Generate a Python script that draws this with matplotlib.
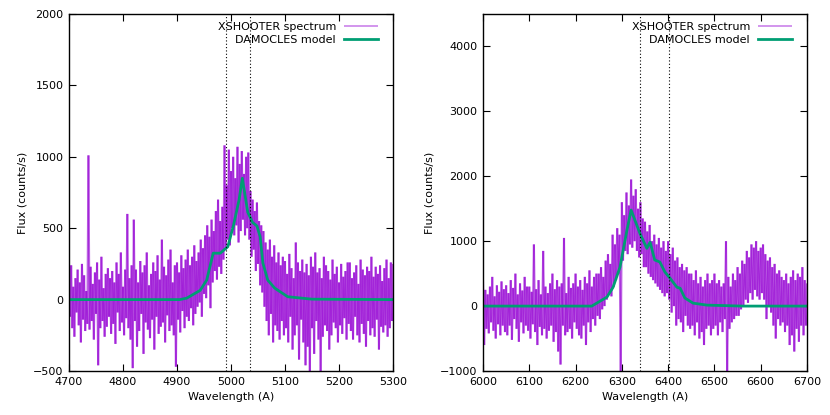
import matplotlib
matplotlib.use("Agg")
import matplotlib.pyplot as plt
from matplotlib.collections import LineCollection
import numpy as np

# --------------------------------------------------------------
# Data
# --------------------------------------------------------------

# left panel: spectrum sampled every 2 A from 4700 to 5300
wave_left_start, wave_left_step = 4700, 2
flux_left = [
    180, -120, 240, -200, 90, -260, 150, -90, 210, -180, 120, -300, 250, -140, 170, -220, 60, -170, 1010, -210,
    230, -150, 110, -280, 190, -100, 260, -460, 140, -200, 300, -150, 80, -260, 180, -190, 220, -120, 150, -240,
    200, -170, 120, -310, 260, -90, 180, -220, 330, -160, 90, -250, 210, -130, 600, -200, 150, -280, 240, -480,
    560, -150, 210, -330, 120, -220, 270, -100, 190, -380, 240, -160, 330, -210, 100, -270, 180, -140, 260, -350,
    200, -120, 310, -240, 140, -190, 420, -160, 230, -300, 170, -110, 280, -220, 350, -180, 120, -250, 240, -470,
    260, -140, 190, -230, 310, -80, 220, -200, 280, -120, 350, -150, 240, -60, 300, -180, 380, -100, 270, -50,
    330, -20, 420, -120, 360, 40, 450, 10, 520, 100, 440, -60, 560, 120, 480, 200, 620, 140, 700, 230,
    550, 180, 650, 280, 1080, 350, 800, 420, 1050, 380, 900, 500, 1000, 450, 850, 520, 1070, 400, 950, 480,
    1040, 560, 880, 450, 1000, 500, 1030, 420, 760, 300, 700, 350, 620, 200, 680, 250, 550, 100, 520, 50,
    480, -50, 400, -150, 350, -250, 420, -100, 300, -300, 380, -180, 260, -220, 330, -280, 240, -150, 300, -250,
    270, -200, 180, -300, 320, -120, 220, -350, 150, -250, 400, -180, 260, -420, 200, -140, 280, -300, 190, -460,
    250, -330, 170, -500, 300, -200, 230, -380, 330, -150, 190, -280, 220, -500, 150, -260, 300, -180, 240, -220,
    200, -350, 140, -250, 280, -160, 180, -200, 230, -300, 120, -180, 250, -240, 160, -130, 200, -280, 260, -170,
    260, -220, 150, -280, 190, -120, 240, -250, 110, -300, 280, -170, 210, -240, 170, -330, 230, -150, 200, -250,
    300, -200, 160, -260, 230, -140, 180, -350, 240, -190, 130, -230, 220, -180, 280, -260, 150, -200, 260, -150,
    250,
]
model_left_wave = [4700, 4905, 4918, 4943, 4955, 4967, 4980, 4994, 5004, 5015,
                   5021, 5031, 5040, 5048, 5054, 5059, 5068, 5081, 5105, 5150, 5300]
model_left_flux = [0, 0, 10, 65, 137, 325, 325, 370, 510, 700,
                   850, 612, 540, 516, 440, 257, 137, 80, 20, 3, 0]
lines_left = [4990, 5036]

# right panel: spectrum sampled every 2.5 A from 6000 to 6700
wave_right_start, wave_right_step = 6000, 2.5
flux_right = [
    400, -600, 250, -350, 180, -420, 300, -250, 450, -380, 150, -500, 320, -280, 220, -450, 380, -300, 260, -400,
    320, -450, 200, -300, 400, -520, 280, -200, 500, -350, 180, -550, 350, -250, 240, -420, 450, -300, 300, -380,
    300, -500, 220, -280, 950, -400, 260, -600, 400, -320, 180, -450, 850, -350, 300, -500, 200, -380, 350, -300,
    500, -550, 260, -400, 400, -700, 300, -900, 350, -300, 1050, -450, 200, -400, 450, -350, 280, -500, 350, -250,
    500, -350, 300, -450, 400, -500, 250, -300, 450, -600, 350, -250, 550, -400, 300, -200, 450, -300, 500, -150,
    500, -200, 600, -50, 450, 0, 700, 100, 800, 200, 650, 150, 1100, 300, 950, 400, 1200, 500, 1100, -1000,
    1600, 700, 1400, 850, 1750, 800, 1550, 950, 1950, 900, 1700, 1000, 1800, 850, 1500, 750, 1600, 800, 1350, 600,
    1300, 600, 1150, 500, 1250, 450, 1000, 400, 1100, 350, 950, 300, 1050, 250, 900, 200, 1000, 150, 850, 200,
    1000, 100, 800, -100, 900, 0, 700, -300, 750, -200, 600, -250, 650, -400, 550, -150, 600, -300, 500, -350,
    500, -300, 400, -450, 550, -250, 350, -500, 450, -400, 300, -600, 400, -350, 500, -300, 350, -450, 400, -350,
    500, -300, 350, -450, 400, -250, 300, -400, 350, -200, 1000, -1000, 450, -350, 300, -250, 500, -200, 400, -150,
    600, -150, 500, -50, 700, 0, 650, 100, 850, 50, 750, 200, 950, 100, 900, 250, 1000, 150, 850, 100,
    900, 200, 950, 100, 800, -200, 700, 0, 750, -100, 600, -300, 650, -500, 500, -200, 550, -300, 450, -250,
    400, -400, 500, -300, 350, -600, 450, -450, 550, -700, 400, -350, 500, -550, 450, -300, 600, -450, 400, -300,
    350,
]
model_right_wave = [6000, 6235, 6268, 6281, 6296, 6311, 6320, 6339, 6354, 6361,
                    6371, 6382, 6393, 6404, 6419, 6426, 6436, 6454, 6484, 6560, 6700]
model_right_flux = [0, 0, 140, 290, 600, 1170, 1480, 1120, 890, 985,
                    710, 680, 525, 430, 290, 275, 125, 45, 15, 0, 0]
lines_right = [6339, 6402]

# --------------------------------------------------------------
# Plot
# --------------------------------------------------------------

plt.rcParams["font.family"] = "DejaVu Sans"
plt.rcParams["font.size"] = 8

fig = plt.figure(figsize=(8.3, 4.15), dpi=100)
ax_l = fig.add_axes([69 / 830, 1 - 371 / 415, 324 / 830, 357 / 415])
ax_r = fig.add_axes([483 / 830, 1 - 371 / 415, 324 / 830, 357 / 415])

panels = [
    (ax_l, wave_left_start, wave_left_step, flux_left, model_left_wave, model_left_flux,
     lines_left, (4700, 5300), (-500, 2000), np.arange(-500, 2001, 500)),
    (ax_r, wave_right_start, wave_right_step, flux_right, model_right_wave, model_right_flux,
     lines_right, (6000, 6700), (-1000, 4500), np.arange(-1000, 4001, 1000)),
]

for ax, w0, dw, flux, mw, mf, vlines, xlim, ylim, yticks in panels:
    wave = w0 + dw * np.arange(len(flux))
    pts = np.column_stack([wave, flux])
    # one segment per step so the overlapping strokes stack up darker
    segs = np.stack([pts[:-1], pts[1:]], axis=1)
    spec = LineCollection(segs, colors="#9400d3", linewidths=1.5, alpha=0.62,
                          label="XSHOOTER spectrum")
    ax.add_collection(spec)
    ax.plot(mw, mf, color="#009e73", lw=2.0, label="DAMOCLES model")
    for v in vlines:
        ax.axvline(v, color="black", ls=(0, (1, 2)), lw=0.8)
    ax.set_xlim(*xlim)
    ax.set_ylim(*ylim)
    ax.set_xticks(np.arange(xlim[0], xlim[1] + 1, 100))
    ax.set_yticks(yticks)
    ax.tick_params(direction="in", top=True, right=True, length=5, width=0.8, pad=4)
    ax.set_xlabel("Wavelength (A)")
    ax.set_ylabel("Flux (counts/s)")
    leg = ax.legend(loc="upper right", bbox_to_anchor=(1 - 7 / 324, 1), frameon=False,
                    markerfirst=False, handlelength=3.1, borderaxespad=0.3,
                    labelspacing=0.25, handletextpad=0.7)
    leg.legend_handles[0].set_alpha(0.45)
    leg.legend_handles[0].set_linewidth(1.3)
    for s in ax.spines.values():
        s.set_linewidth(1.0)

fig.savefig("out.png", dpi=100)
